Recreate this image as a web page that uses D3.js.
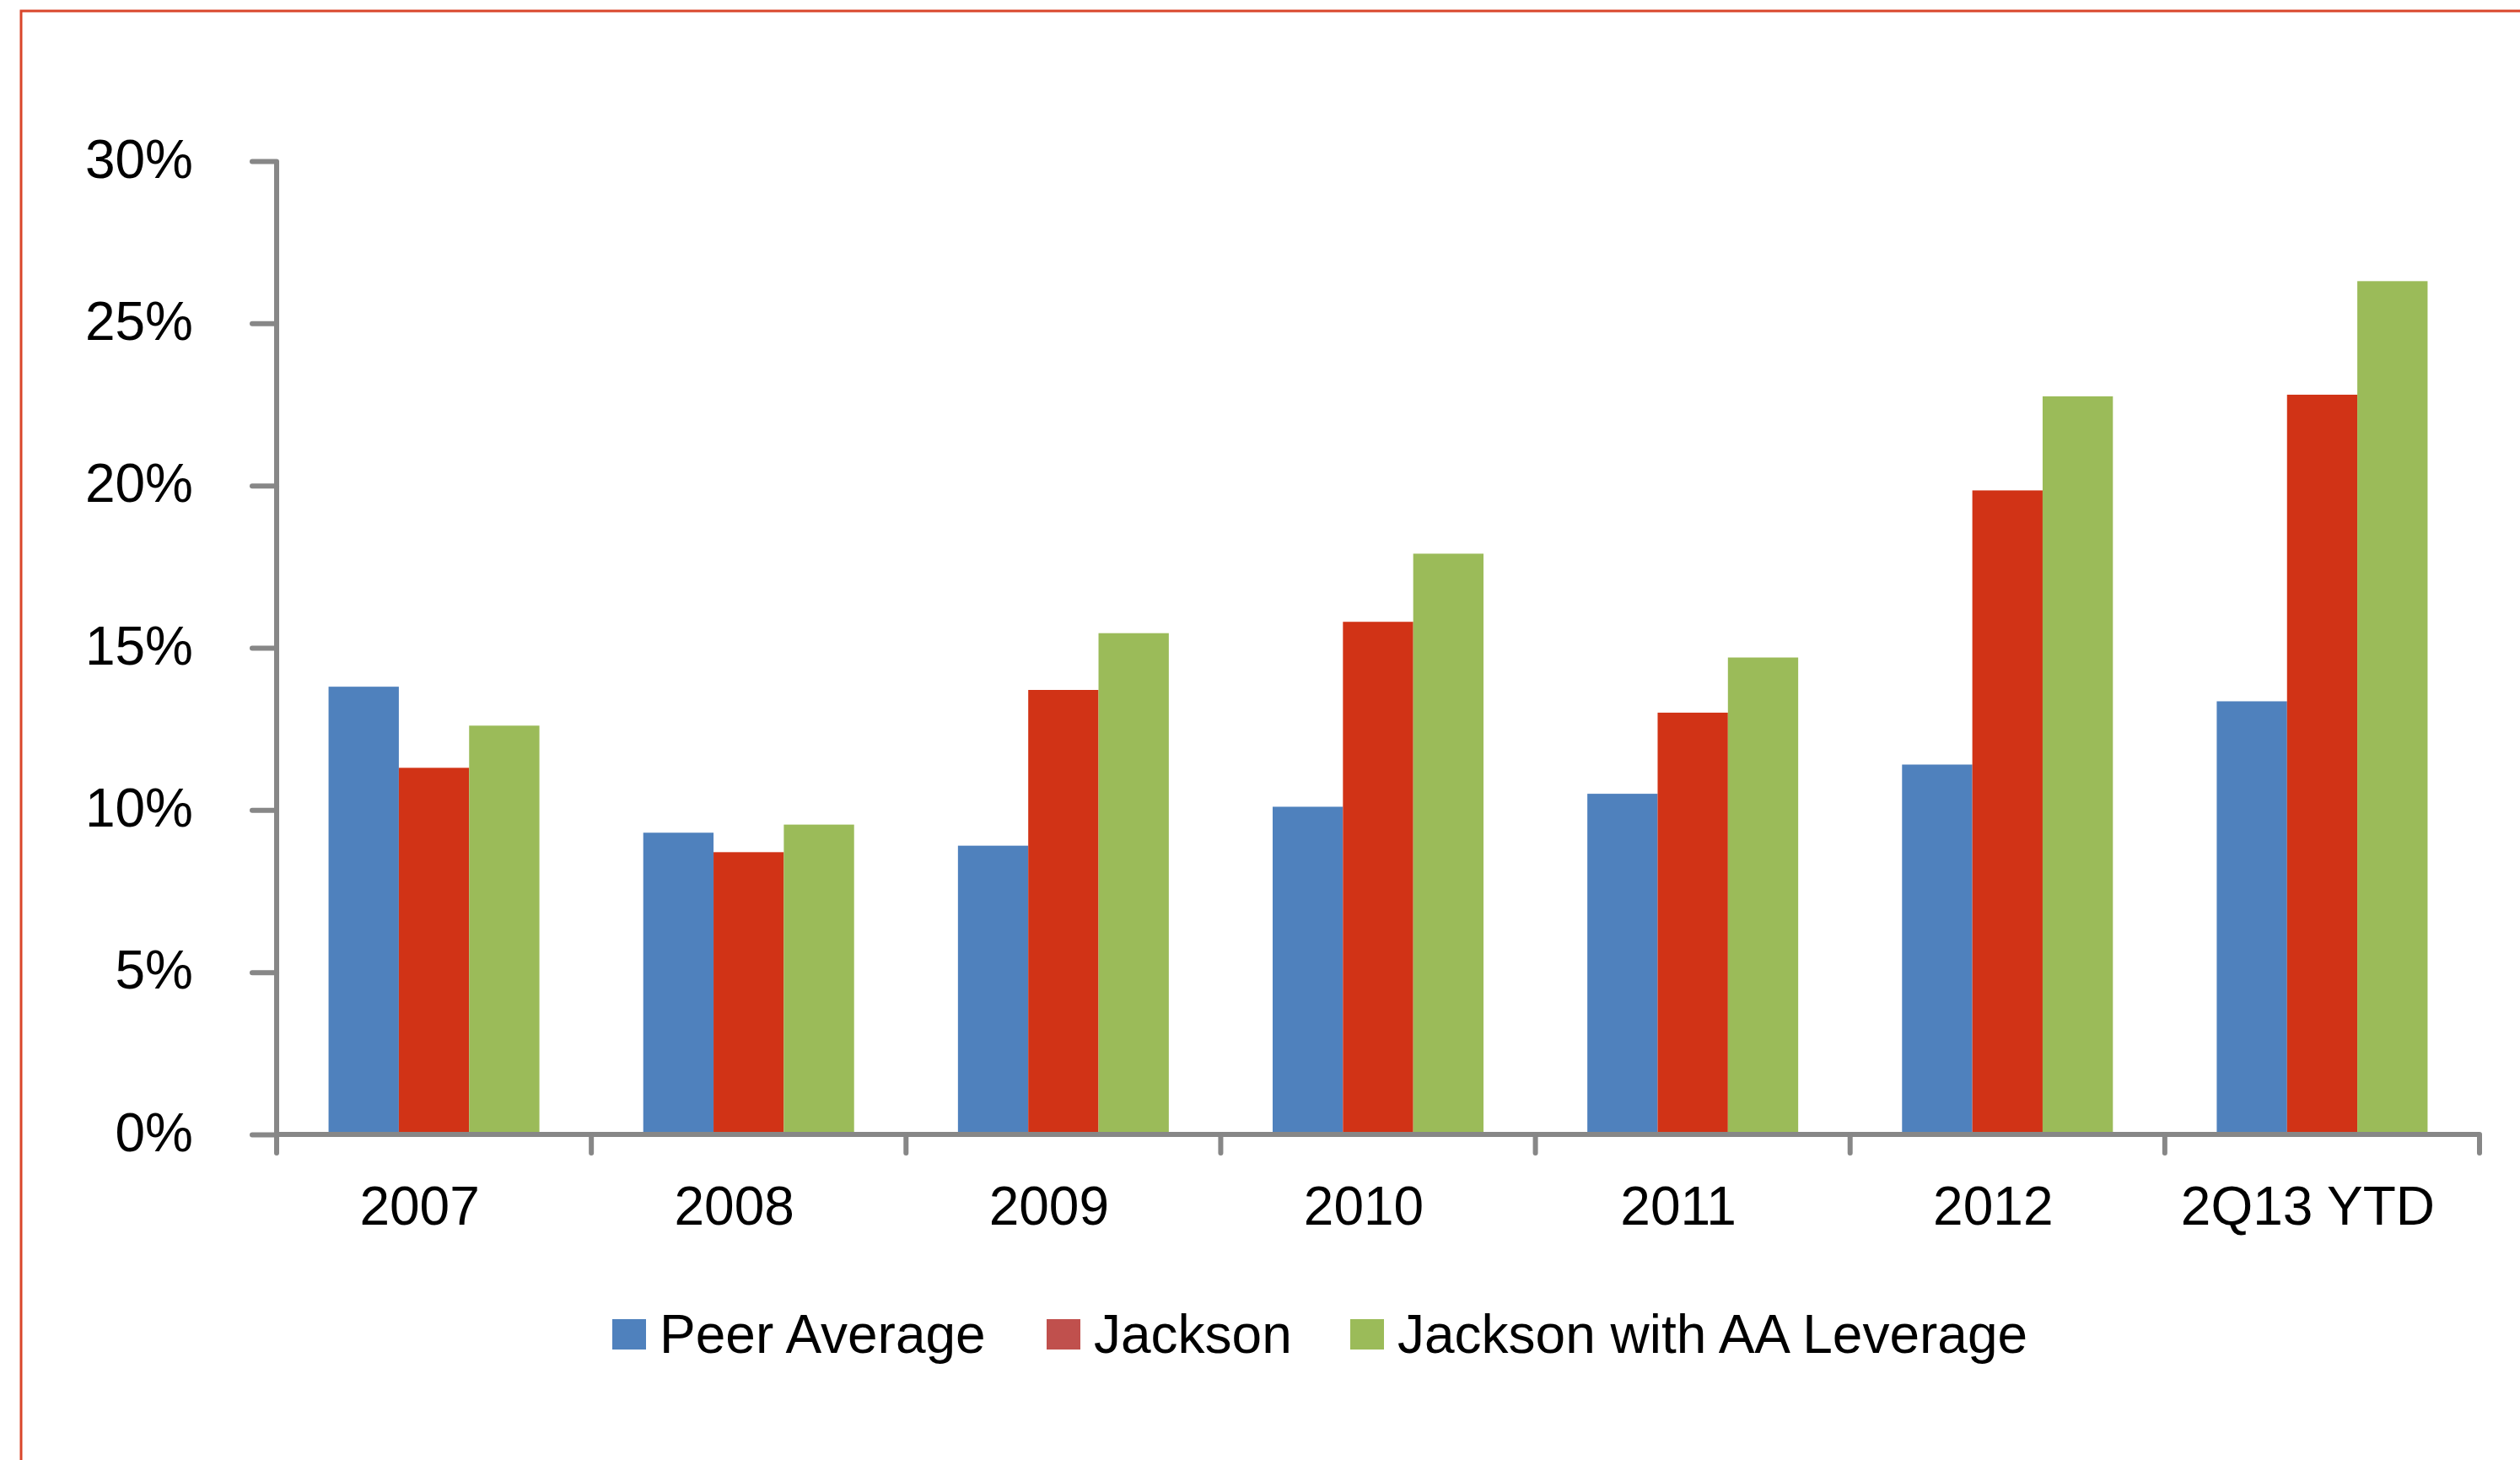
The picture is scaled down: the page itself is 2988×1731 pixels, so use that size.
<!DOCTYPE html>
<html lang="en">
<head>
	<meta charset="UTF-8">
	<title>Peer Average vs Jackson</title>
	<script src="https://cdn.jsdelivr.net/npm/d3@7/dist/d3.min.js"></script>
	<style>
		body { margin: 0; background: #fff; }
		text { font-family: "Liberation Sans", Arial, sans-serif; fill: #000; }
	</style>
</head>
<body>
<svg id="chart" width="2988" height="1731"></svg>
<script>
	// data (percent)
	const categories = ["2007", "2008", "2009", "2010", "2011", "2012", "2Q13 YTD"];
	const seriesNames = ["Peer Average", "Jackson", "Jackson with AA Leverage"];
	const peerAverage = [13.8, 9.3, 8.9, 10.1, 10.5, 11.4, 13.35];
	const jackson = [11.3, 8.7, 13.7, 15.8, 13.0, 19.85, 22.8];
	const jacksonAA = [12.6, 9.55, 15.45, 17.9, 14.7, 22.75, 26.3];
	const yTicks = [0, 5, 10, 15, 20, 25, 30];

	const barColors = ["#4F81BD", "#D13316", "#9BBB59"];
	const legendColors = ["#4F81BD", "#C0504D", "#9BBB59"];

	const svg = d3.select("#chart");
	const margin = { top: 191, left: 328, right: 48, bottom: 386 };
	const width = 2988, height = 1731;
	const fontSize = 64;

	// page frame (top + left only)
	svg.append("path")
		.attr("d", `M${width},13 L25,13 L25,${height}`)
		.attr("fill", "none")
		.attr("stroke", "#D9462B")
		.attr("stroke-width", 3);

	const x0 = d3.scaleBand()
		.domain(categories)
		.range([margin.left, width - margin.right])
		.paddingInner(0.33)
		.paddingOuter(0.165);

	const x1 = d3.scaleBand()
		.domain(seriesNames)
		.range([0, x0.bandwidth()]);

	const y = d3.scaleLinear()
		.domain([0, 30])
		.range([height - margin.bottom, margin.top]);

	const rows = categories.map((c, i) => ({
		cat: c,
		values: [peerAverage[i], jackson[i], jacksonAA[i]]
	}));

	// bars
	const groups = svg.append("g").selectAll("g")
		.data(rows)
		.enter()
		.append("g")
		.attr("transform", d => `translate(${x0(d.cat)},0)`);

	groups.selectAll("rect")
		.data(d => d.values.map((v, j) => ({ name: seriesNames[j], value: v, j: j })))
		.enter()
		.append("rect")
		.attr("x", d => x1(d.name))
		.attr("width", x1.bandwidth())
		.attr("y", d => y(d.value))
		.attr("height", d => y(0) - y(d.value))
		.attr("fill", d => barColors[d.j]);

	// y axis
	const yAxis = svg.append("g")
		.attr("transform", `translate(${margin.left},0)`)
		.call(d3.axisLeft(y).tickValues(yTicks).tickSize(29).tickPadding(70).tickFormat(d => d + "%"));
	yAxis.select(".domain").remove();
	yAxis.selectAll("line").attr("stroke", "#878787").attr("stroke-width", 6).attr("stroke-linecap", "round");
	yAxis.selectAll("text")
		.attr("font-size", fontSize)
		.attr("dy", "0.3em")
		.style("font-family", '"Liberation Sans", Arial, sans-serif');
	yAxis.append("line")
		.attr("x1", 0).attr("x2", 0)
		.attr("y1", y(30)).attr("y2", y(0) + 3)
		.attr("stroke", "#878787").attr("stroke-width", 6);

	// x axis
	const xAxis = svg.append("g")
		.attr("transform", `translate(0,${y(0)})`)
		.call(d3.axisBottom(x0).tickSize(0).tickPadding(62));
	xAxis.select(".domain").remove();
	xAxis.selectAll("text")
		.attr("font-size", fontSize)
		.attr("dx", -17)
		.style("font-family", '"Liberation Sans", Arial, sans-serif');

	xAxis.append("line")
		.attr("x1", margin.left - 3).attr("x2", width - margin.right)
		.attr("y1", 0).attr("y2", 0)
		.attr("stroke", "#878787").attr("stroke-width", 6);

	const boundaries = d3.range(categories.length + 1).map(i => margin.left + i * x0.step());
	xAxis.selectAll(".bound")
		.data(boundaries)
		.enter()
		.append("line")
		.attr("class", "bound")
		.attr("x1", d => d).attr("x2", d => d)
		.attr("y1", 0).attr("y2", 22)
		.attr("stroke", "#878787").attr("stroke-width", 6).attr("stroke-linecap", "round");

	// legend
	const legendX = [726, 1241, 1601];
	const legend = svg.append("g")
		.selectAll("g")
		.data(seriesNames)
		.enter()
		.append("g")
		.attr("transform", (d, i) => `translate(${legendX[i]},1582)`);

	legend.append("rect")
		.attr("x", 0).attr("y", -18)
		.attr("width", 40).attr("height", 36)
		.attr("fill", (d, i) => legendColors[i]);

	legend.append("text")
		.attr("x", 56)
		.attr("dy", "0.35em")
		.attr("font-size", fontSize)
		.text(d => d);
</script>
</body>
</html>
